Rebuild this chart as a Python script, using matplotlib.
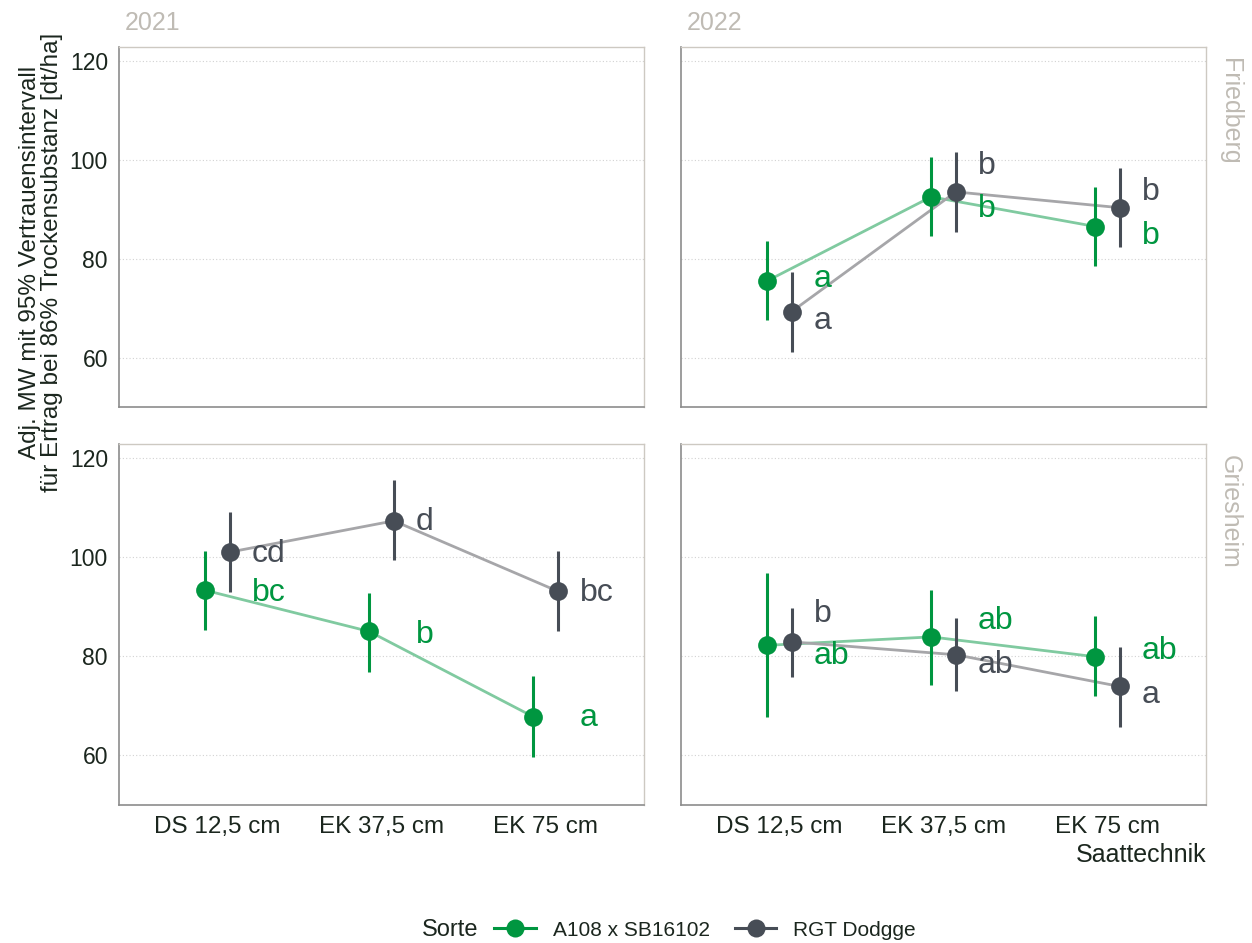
import matplotlib
matplotlib.use("Agg")
import matplotlib.pyplot as plt
from matplotlib.lines import Line2D
import numpy as np

plt.rcParams["font.family"] = ["Liberation Sans", "DejaVu Sans"]

# --- data -------------------------------------------------------------
categories = ["DS 12,5 cm", "EK 37,5 cm", "EK 75 cm"]
varieties = ["A108 x SB16102", "RGT Dodgge"]
years = ["2021", "2022"]
locations = ["Friedberg", "Griesheim"]

# Friedberg 2022
fb22_a108_mean = [75.5, 92.5, 86.5]
fb22_a108_lo = [67.5, 84.5, 78.5]
fb22_a108_hi = [83.6, 100.6, 94.5]
fb22_a108_letters = ["a", "b", "b"]
fb22_a108_label_y = [75.8, 90.1, 84.6]

fb22_rgt_mean = [69.3, 93.5, 90.3]
fb22_rgt_lo = [61.1, 85.3, 82.3]
fb22_rgt_hi = [77.2, 101.5, 98.3]
fb22_rgt_letters = ["a", "b", "b"]
fb22_rgt_label_y = [67.3, 98.8, 93.5]

# Griesheim 2021
gh21_a108_mean = [93.3, 85.0, 67.8]
gh21_a108_lo = [85.3, 76.9, 59.7]
gh21_a108_hi = [101.3, 92.8, 76.0]
gh21_a108_letters = ["bc", "b", "a"]
gh21_a108_label_y = [92.7, 84.3, 67.5]

gh21_rgt_mean = [101.0, 107.3, 93.1]
gh21_rgt_lo = [93.0, 99.5, 85.1]
gh21_rgt_hi = [109.0, 115.5, 101.2]
gh21_rgt_letters = ["cd", "d", "bc"]
gh21_rgt_label_y = [100.7, 107.0, 92.7]

# Griesheim 2022
gh22_a108_mean = [82.2, 83.9, 79.9]
gh22_a108_lo = [67.8, 74.3, 71.9]
gh22_a108_hi = [96.7, 93.3, 88.1]
gh22_a108_letters = ["ab", "ab", "ab"]
gh22_a108_label_y = [80.0, 87.1, 81.0]

gh22_rgt_mean = [82.9, 80.3, 73.9]
gh22_rgt_lo = [75.9, 72.9, 65.8]
gh22_rgt_hi = [89.8, 87.8, 81.9]
gh22_rgt_letters = ["b", "ab", "a"]
gh22_rgt_label_y = [88.5, 78.3, 72.2]

y_ticks = [60, 80, 100, 120]

# --- styling ----------------------------------------------------------
GREEN = "#009640"
DARK = "#474d56"
GREEN_LINE = "#80caa0"
DARK_LINE = "#a6a6a9"
STRIP = "#bfbbb4"
TEXT = "#1b261e"
BORDER = "#cdc9c2"
AXIS = "#8c8c8c"

W, H = 1252, 943
fig = plt.figure(figsize=(W / 100, H / 100), dpi=100)


def frac_rect(x0, y0, x1, y1):
    return [x0 / W, 1 - y1 / H, (x1 - x0) / W, (y1 - y0) / H]


panel_x = {"2021": (119, 644), "2022": (681, 1206)}
panel_y = {"Friedberg": (47, 407), "Griesheim": (444, 805)}

series = {
    ("Friedberg", "2022"): [
        (fb22_a108_mean, fb22_a108_lo, fb22_a108_hi, fb22_a108_letters, fb22_a108_label_y),
        (fb22_rgt_mean, fb22_rgt_lo, fb22_rgt_hi, fb22_rgt_letters, fb22_rgt_label_y),
    ],
    ("Griesheim", "2021"): [
        (gh21_a108_mean, gh21_a108_lo, gh21_a108_hi, gh21_a108_letters, gh21_a108_label_y),
        (gh21_rgt_mean, gh21_rgt_lo, gh21_rgt_hi, gh21_rgt_letters, gh21_rgt_label_y),
    ],
    ("Griesheim", "2022"): [
        (gh22_a108_mean, gh22_a108_lo, gh22_a108_hi, gh22_a108_letters, gh22_a108_label_y),
        (gh22_rgt_mean, gh22_rgt_lo, gh22_rgt_hi, gh22_rgt_letters, gh22_rgt_label_y),
    ],
}

point_colors = [GREEN, DARK]
line_colors = [GREEN_LINE, DARK_LINE]
dodge = [-0.075, 0.075]
label_shift = 0.21

x = np.arange(1, len(categories) + 1)

for loc in locations:
    for yr in years:
        x0, x1 = panel_x[yr]
        y0, y1 = panel_y[loc]
        ax = fig.add_axes(frac_rect(x0, y0, x1, y1))
        ax.set_xlim(0.4, 3.6)
        ax.set_ylim(50.0, 122.8)
        ax.set_yticks(y_ticks)
        ax.set_xticks(x)
        ax.grid(axis="y", linestyle=(0, (1, 2)), color="#d2d2d2", linewidth=0.8)
        ax.set_axisbelow(True)
        ax.tick_params(length=0, colors=TEXT, pad=8)
        ax.tick_params(axis="x", labelsize=17.5)
        ax.tick_params(axis="y", labelsize=16.5)
        for side in ("top", "right"):
            ax.spines[side].set_color(BORDER)
            ax.spines[side].set_linewidth(1.0)
        for side in ("left", "bottom"):
            ax.spines[side].set_color(AXIS)
            ax.spines[side].set_linewidth(1.2)

        if loc == "Griesheim":
            ax.set_xticklabels(categories)
        else:
            ax.set_xticklabels([])
        if yr == "2021":
            ax.set_yticklabels([str(t) for t in y_ticks])
        else:
            ax.set_yticklabels([])

        for k, data in enumerate(series.get((loc, yr), [])):
            mean, lo, hi, letters, label_y = data
            xs = x + dodge[k]
            mean = np.asarray(mean)
            ax.plot(xs, mean, color=line_colors[k], linewidth=2.0, zorder=2)
            ax.vlines(xs, lo, hi, color=point_colors[k], linewidth=2.2, zorder=3)
            ax.plot(xs, mean, linestyle="none", marker="o", markersize=13.5,
                    color=point_colors[k], markeredgewidth=0, zorder=4)
            for xi, ly, lt in zip(x, label_y, letters):
                ax.text(xi + label_shift, ly, lt, color=point_colors[k],
                        fontsize=23, ha="left", va="center", zorder=5)

        # facet strips
        if loc == "Friedberg":
            fig.text((x0 + 6) / W, 1 - 23 / H, yr, color=STRIP, fontsize=18,
                     ha="left", va="center")
        if yr == "2022":
            fig.text(1230 / W, 1 - (y0 + 11) / H, loc, color=STRIP, fontsize=18,
                     rotation=270, ha="center", va="top")

# axis titles
fig.text(41 / W, 1 - 262 / H,
         "Adj. MW mit 95% Vertrauensintervall\nfür Ertrag bei 86% Trockensubstanz [dt/ha]",
         rotation=90, ha="center", va="center", fontsize=17.5, color=TEXT,
         linespacing=1.0, multialignment="center")
fig.text(1206 / W, 1 - 855 / H, "Saattechnik", ha="right", va="center",
         fontsize=18, color=TEXT)

# legend
handles = [Line2D([0], [0], color=c, marker="o", markersize=13, linewidth=2.2,
                  markeredgewidth=0) for c in point_colors]
fig.text(450 / W, 1 - 930 / H, "Sorte", ha="center", va="center", fontsize=17, color=TEXT)
fig.legend(handles, varieties, ncol=2, loc="center", bbox_to_anchor=(705 / W, 1 - 930 / H),
           frameon=False, fontsize=15, handlelength=2.0, columnspacing=1.2,
           handletextpad=0.8, labelcolor=TEXT)

fig.savefig("out.png", dpi=100)
